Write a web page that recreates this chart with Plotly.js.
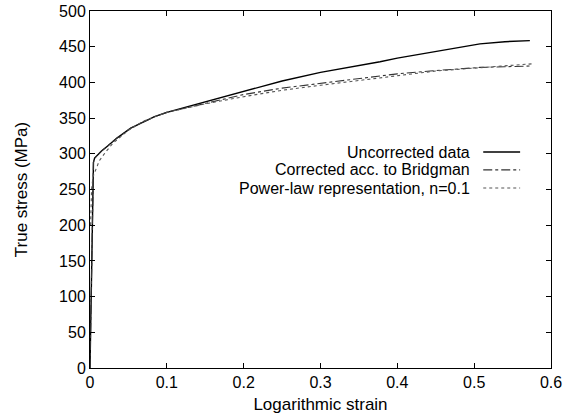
<!DOCTYPE html>
<html>
<head>
<meta charset="utf-8">
<script src="https://cdn.plot.ly/plotly-3.0.1.min.js"></script>
<style>html,body{margin:0;padding:0;background:#fff;}#chart{width:564px;height:416px;}</style>
</head>
<body>
<div id="chart"></div>
<script>
// Uncorrected data
const uncorrX = [0, 0.002, 0.0038, 0.0045, 0.006, 0.01, 0.015, 0.023, 0.035, 0.053, 0.07, 0.084, 0.1, 0.1275, 0.15, 0.17, 0.2, 0.25, 0.3, 0.35, 0.3775, 0.4, 0.4425, 0.48, 0.5075, 0.54, 0.5725];
const uncorrY = [0, 130, 250, 288, 294, 299, 304, 311, 322, 336, 345, 352, 358, 366, 373, 379, 388, 402, 414, 423, 429, 434, 442, 449, 454, 457, 458.5];
// Corrected acc. to Bridgman
const bridgX = [0, 0.002, 0.0038, 0.0045, 0.006, 0.01, 0.015, 0.023, 0.035, 0.053, 0.07, 0.084, 0.1, 0.1275, 0.15, 0.17, 0.2, 0.25, 0.3, 0.35, 0.3775, 0.4, 0.4425, 0.48, 0.5075, 0.54, 0.575];
const bridgY = [0, 130, 250, 288, 294, 299, 304, 311, 322, 336, 345, 352, 358, 365, 371, 376, 383, 392, 399, 405, 409, 412, 416, 419, 421, 422, 423];
// Power-law representation, n=0.1
const powX = [0.0008, 0.002, 0.004, 0.008, 0.012, 0.02, 0.03, 0.05, 0.07, 0.1, 0.15, 0.2, 0.25, 0.3, 0.35, 0.4, 0.45, 0.5, 0.575];
const powY = [200, 250, 268, 280, 290, 302, 315, 333, 346, 358, 370, 380, 389, 396, 403, 410, 416, 420, 426];

const seriesNames = ["Uncorrected data", "Corrected acc. to Bridgman", "Power-law representation, n=0.1"];
const xTitle = "Logarithmic strain";
const yTitle = "True stress (MPa)";

const FONT = "Liberation Sans, Arial, Helvetica, sans-serif";
const styles = [
  {color: "#000000", width: 1.4, dash: "solid"},
  {color: "#333333", width: 1.1, dash: "dashdot"},
  {color: "#555555", width: 1.1, dash: "dot"}
];

const traces = [
  {x: uncorrX, y: uncorrY, mode: "lines", name: seriesNames[0], line: styles[0]},
  {x: bridgX, y: bridgY, mode: "lines", name: seriesNames[1], line: styles[1]},
  {x: powX, y: powY, mode: "lines", name: seriesNames[2], line: styles[2]}
];

const legX = 0.829, legY = [0.605, 0.555, 0.504];
const annotations = seriesNames.map((n, i) => ({
  xref: "paper", yref: "paper", x: legX, y: legY[i], xanchor: "right", yanchor: "middle",
  text: n, showarrow: false, font: {family: FONT, size: 16, color: "#000"}
}));
const shapes = seriesNames.map((n, i) => ({
  type: "line", xref: "paper", yref: "paper", x0: 0.853, x1: 0.933, y0: legY[i], y1: legY[i],
  line: styles[i]
}));

const axisCommon = {
  showgrid: false, zeroline: false, showline: true, linecolor: "#000", linewidth: 1,
  mirror: "ticks", ticks: "inside", ticklen: 5, tickcolor: "#000", tickwidth: 1,
  tickfont: {family: FONT, size: 16, color: "#000"}
};

const layout = {
  width: 564, height: 416,
  margin: {l: 90, r: 13, t: 11, b: 48},
  paper_bgcolor: "#fff", plot_bgcolor: "#fff",
  showlegend: false,
  font: {family: FONT, size: 16, color: "#000"},
  xaxis: Object.assign({}, axisCommon, {range: [0, 0.6], dtick: 0.1, tick0: 0,
    title: {text: xTitle, font: {family: FONT, size: 17}, standoff: 7}}),
  yaxis: Object.assign({}, axisCommon, {range: [0, 500], dtick: 50, tick0: 0,
    title: {text: yTitle, font: {family: FONT, size: 17}, standoff: 27}}),
  annotations: annotations,
  shapes: shapes
};

Plotly.newPlot("chart", traces, layout, {staticPlot: true, displayModeBar: false});
</script>
</body>
</html>
